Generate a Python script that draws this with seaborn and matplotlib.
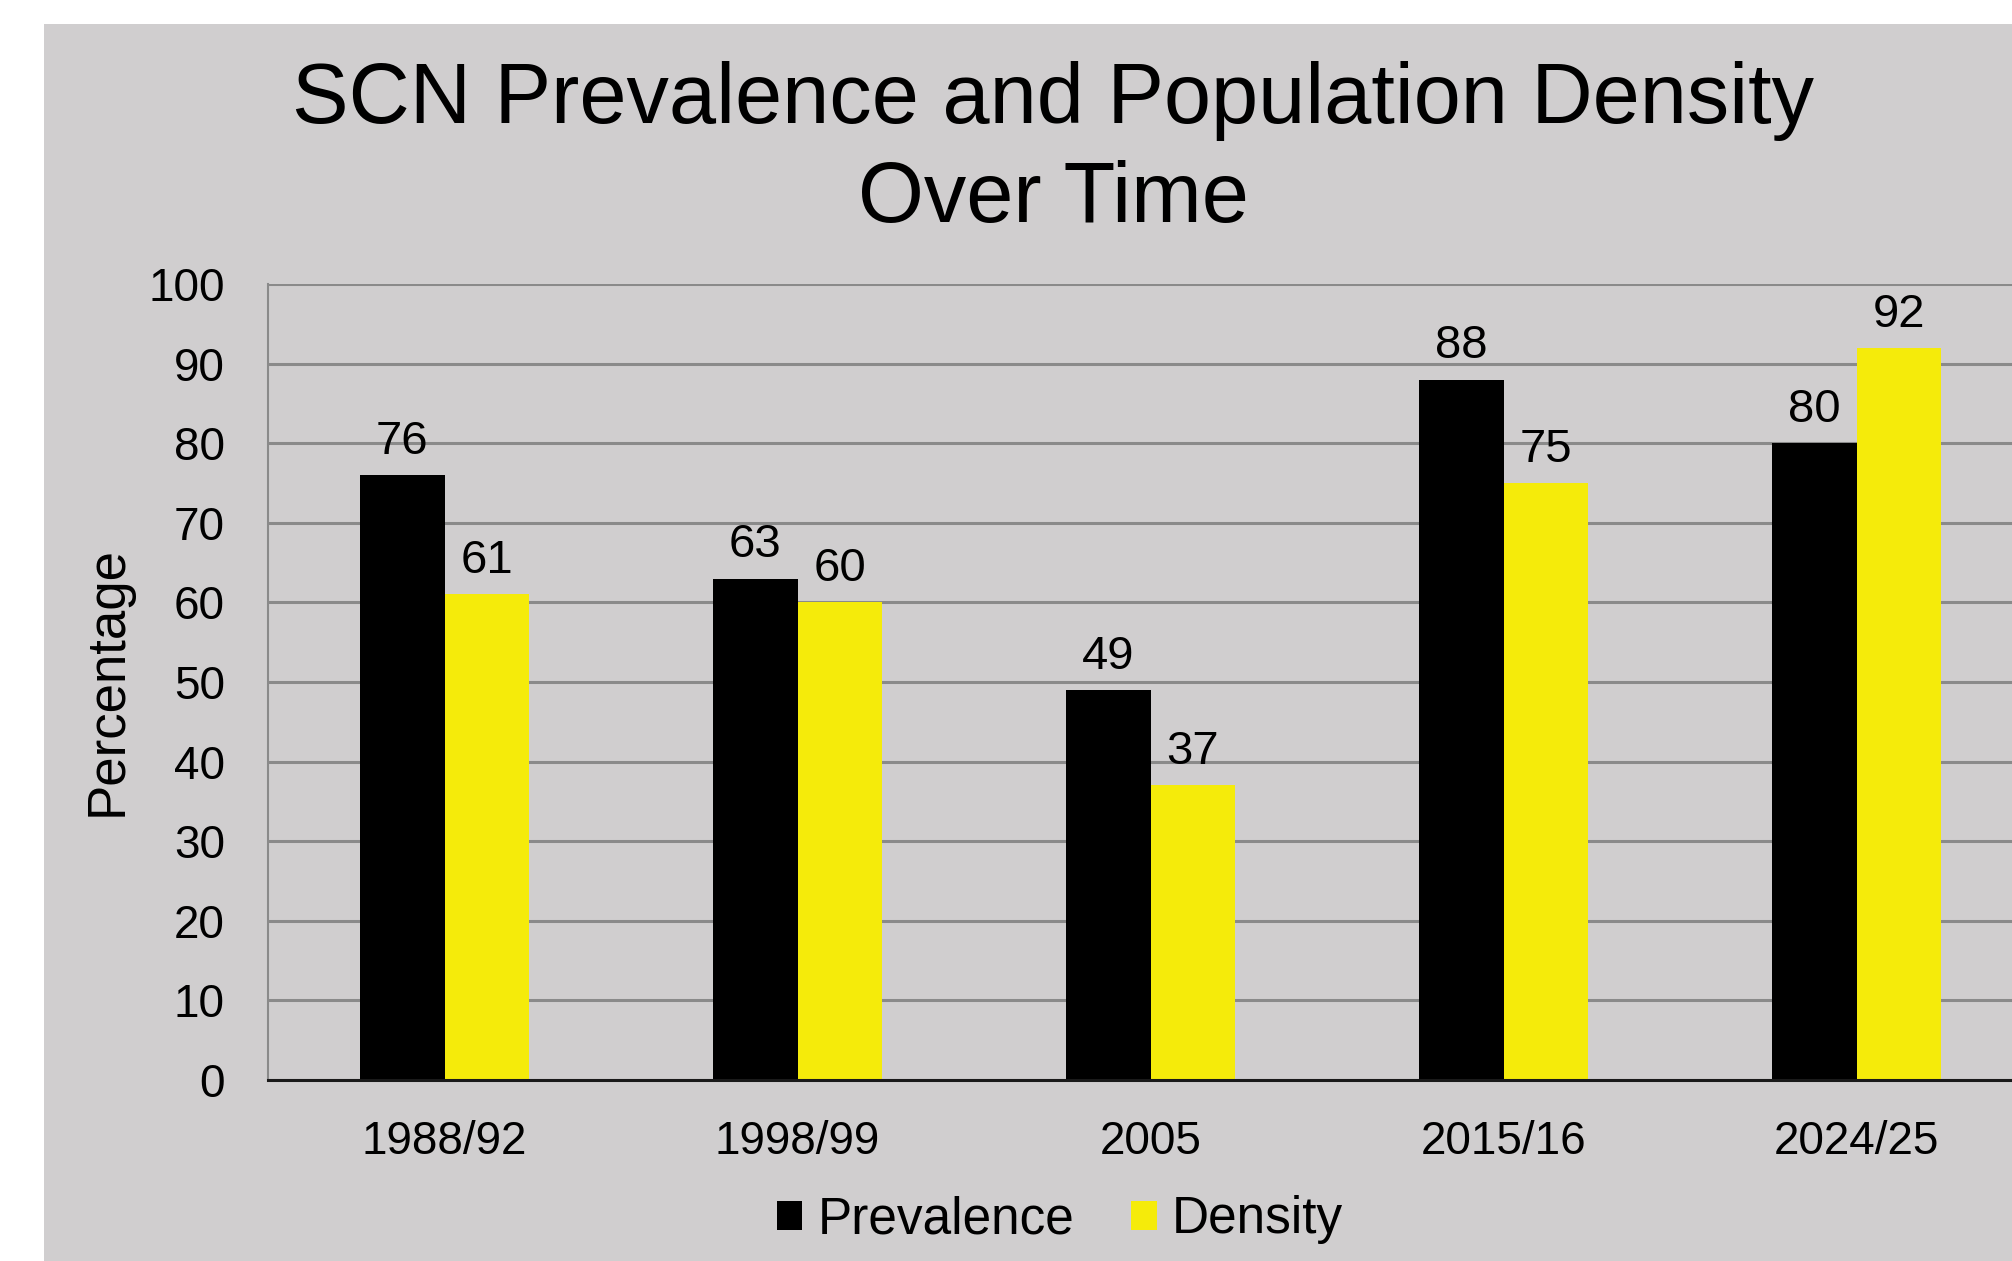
import matplotlib
matplotlib.use("Agg")
import matplotlib.pyplot as plt
from matplotlib.patches import Rectangle
import seaborn as sns
import pandas as pd

# ---- data ----
periods = ["1988/92", "1998/99", "2005", "2015/16", "2024/25"]
prevalence = [76, 63, 49, 88, 80]
density = [61, 60, 37, 75, 92]
series_names = ["Prevalence", "Density"]
yticks = [0, 10, 20, 30, 40, 50, 60, 70, 80, 90, 100]

title = "SCN Prevalence and Population Density\nOver Time"
ylabel = "Percentage"

BG = "#D0CECF"
YELLOW = "#F5EB0A"
GRID = "#8A8A8A"

sns.set_style("white")
plt.rcParams["font.family"] = ["Liberation Sans", "DejaVu Sans"]
plt.rcParams["text.color"] = "black"

df = pd.DataFrame({
    "Period": periods * 2,
    "Value": prevalence + density,
    "Series": [series_names[0]] * len(periods) + [series_names[1]] * len(periods),
})

W, H = 2012, 1261
fig = plt.figure(figsize=(W / 100, H / 100), dpi=100)
fig.patch.set_facecolor("white")
fig.patches.append(Rectangle((44 / W, 0), 1, 1 - 24 / H, transform=fig.transFigure,
                             facecolor=BG, edgecolor="none", zorder=-5))

ax_left, ax_right = 268, 268 + 1765
ax_bottom_px, ax_top_px = 1080, 284
ax = fig.add_axes([ax_left / W, (H - ax_bottom_px) / H,
                   (ax_right - ax_left) / W, (ax_bottom_px - ax_top_px) / H])
ax.set_facecolor("none")
ax.set_zorder(2)

sns.barplot(data=df, x="Period", y="Value", hue="Series", order=periods,
            hue_order=series_names, palette=["black", YELLOW], width=0.48,
            saturation=1, ax=ax, legend=True, zorder=3, linewidth=0)

for cont in ax.containers:
    ax.bar_label(cont, padding=8, fontsize=34, color="black")

ax.set_ylim(0, 100)
ax.set_xlim(-0.5, 4.5)
ax.set_yticks(yticks)
ax.tick_params(axis="both", length=0, labelsize=33, colors="black")
ax.tick_params(axis="y", pad=31)
ax.tick_params(axis="x", pad=29)
ax.yaxis.grid(True, color=GRID, linewidth=2.2)
ax.set_axisbelow(True)
for s in ["top", "right"]:
    ax.spines[s].set_visible(False)
ax.spines["left"].set_color(GRID)
ax.spines["left"].set_linewidth(1.5)
ax.spines["bottom"].set_color("#1a1a1a")
ax.spines["bottom"].set_linewidth(2.2)
ax.spines["bottom"].set_zorder(4)

ax.set_xlabel("")
ax.set_ylabel(ylabel, fontsize=38, va="center", color="black")
ax.yaxis.set_label_coords((108 - ax_left) / (ax_right - ax_left),
                          (ax_bottom_px - 681) / (ax_bottom_px - ax_top_px))

handles, labels = ax.get_legend_handles_labels()
ax.get_legend().remove()
for h in handles:
    h.set_edgecolor("none")
fig.legend(handles, labels, loc="center", bbox_to_anchor=(1060 / W, 1 - 1220 / H),
           ncol=2, frameon=False, fontsize=37, handlelength=0.5, handleheight=0.5,
           handletextpad=0.3, columnspacing=1.1, borderpad=0, labelcolor="black")

fig.text(1053 / W, 1 - 222 / H, title, ha="center", va="baseline",
         fontsize=61, linespacing=1.3, color="black")

fig.savefig("out.png", dpi=100, facecolor=fig.get_facecolor())
